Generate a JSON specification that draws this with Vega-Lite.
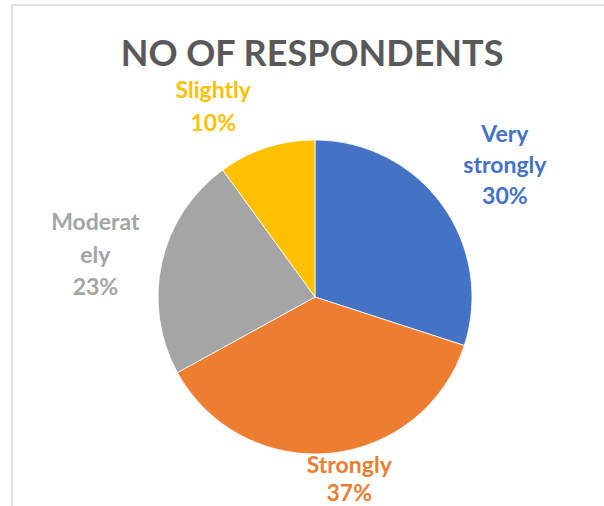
{
  "$schema": "https://vega.github.io/schema/vega-lite/v6.json",
  "width": 606,
  "height": 584,
  "autosize": "none",
  "padding": {"left": 12, "top": 5, "right": 0, "bottom": 0},
  "background": "white",
  "view": {"stroke": "#d9d9d9", "strokeWidth": 1.5},
  "title": {"text": "NO OF RESPONDENTS", "font": "Lato", "fontSize": 36, "fontWeight": "bold", "color": "#595959", "anchor": "middle", "frame": "group", "baseline": "alphabetic", "offset": -97, "dx": -3},
  "data": {"values": [
    {"category": "Very strongly", "value": 30, "rank": 1, "label": "Very\nstrongly\n30%"},
    {"category": "Strongly", "value": 37, "rank": 2, "label": "Strongly\n37%"},
    {"category": "Moderately", "value": 23, "rank": 3, "label": "Moderat\nely\n23%"},
    {"category": "Slightly", "value": 10, "rank": 4, "label": "Slightly\n10%"}
  ]},
  "encoding": {
    "theta": {"field": "value", "type": "quantitative", "stack": true},
    "order": {"field": "rank", "type": "quantitative"},
    "color": {"field": "category", "type": "nominal", "legend": null,
      "scale": {"domain": ["Very strongly", "Strongly", "Moderately", "Slightly"], "range": ["#4472C4", "#ED7D31", "#A5A5A5", "#FFC000"]}}
  },
  "layer": [
    {"mark": {"type": "arc", "outerRadius": 157, "stroke": "white", "strokeWidth": 0.8}},
    {"mark": {"type": "text", "radius": 231, "dx": 3, "dy": -26, "font": "Lato", "fontSize": 23, "fontWeight": "bold", "lineBreak": "\n", "lineHeight": 31},
     "encoding": {"text": {"condition": {"test": "datum.category === 'Very strongly'", "field": "label"}, "value": ""}}},
    {"mark": {"type": "text", "radius": 183, "dx": 17, "dy": -13, "font": "Lato", "fontSize": 23, "fontWeight": "bold", "lineBreak": "\n", "lineHeight": 28},
     "encoding": {"text": {"condition": {"test": "datum.category === 'Strongly'", "field": "label"}, "value": ""}}},
    {"mark": {"type": "text", "radius": 224, "dx": -1, "dy": -25, "font": "Lato", "fontSize": 23, "fontWeight": "bold", "lineBreak": "\n", "lineHeight": 32.5},
     "encoding": {"text": {"condition": {"test": "datum.category === 'Moderately'", "field": "label"}, "value": ""}}},
    {"mark": {"type": "text", "radius": 216, "dx": -35, "dy": -1, "font": "Lato", "fontSize": 23, "fontWeight": "bold", "lineBreak": "\n", "lineHeight": 33},
     "encoding": {"text": {"condition": {"test": "datum.category === 'Slightly'", "field": "label"}, "value": ""}}}
  ]
}
